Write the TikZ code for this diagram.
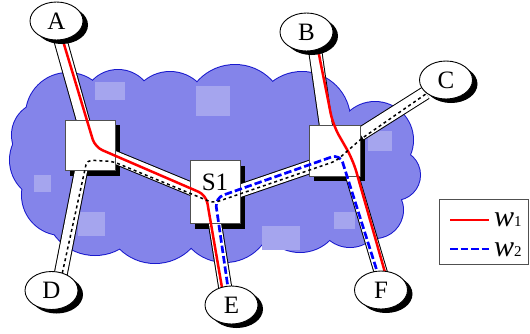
\documentclass[tikz,border=0pt]{standalone}
\usepackage{fontspec}
\setmainfont{Liberation Serif}
\usetikzlibrary{calc,shapes.geometric,shadows}
\definecolor{cloudfill}{RGB}{132,132,234}
\definecolor{cloudline}{RGB}{25,25,205}
\definecolor{patchc}{RGB}{165,165,238}
\definecolor{boxline}{RGB}{80,80,80}
\definecolor{wred}{RGB}{255,0,0}
\definecolor{wblue}{RGB}{0,0,255}
\pgfdeclarelayer{cloudlayer}
\pgfdeclarelayer{shadowlayer}
\pgfdeclarelayer{bandlayer}
\pgfdeclarelayer{routelayer}
\pgfdeclarelayer{toplayer}
\pgfsetlayers{cloudlayer,shadowlayer,bandlayer,main,routelayer,toplayer}
\tikzset{
 swbox/.style={draw=boxline, fill=white, line width=0.9pt, inner sep=0pt, minimum width=50pt, minimum height=50pt},
 host/.style={ellipse, draw=black, fill=white, line width=0.9pt, inner sep=0pt, minimum width=53pt, minimum height=38pt, font=\fontsize{25}{25}\selectfont, drop shadow={shadow xshift=5pt, shadow yshift=-4pt, opacity=1, fill=black}},
 bandout/.style={line width=14pt, draw=black},
 bandin/.style={line width=12pt, draw=white},
 wone/.style={draw=wred, line width=2.5pt},
 wtwo/.style={draw=wblue, line width=2.7pt, dash pattern=on 7.5pt off 3pt},
 basepath/.style={draw=black, line width=1.5pt, dash pattern=on 3pt off 3pt},
}
\begin{document}
\begin{tikzpicture}[x=1pt,y=-1pt]
\useasboundingbox (0,0) rectangle (530,333);

% switches
\node[swbox] (L) at (90,145.5) {};
\node[swbox, minimum height=63pt, font=\fontsize{25}{25}\selectfont, text height=17pt, text depth=20pt] (S1) at (215,191.5) {S1};
\node[swbox, minimum width=51pt, minimum height=51pt] (R) at (334.5,150.5) {};

% hosts
\begin{pgfonlayer}{toplayer}
\node[host] (A) at (56.5,21) {A};
\node[host] (B) at (306.5,32) {B};
\node[host] (C) at (446,80) {C};
\node[host] (D) at (51.5,290.5) {D};
\node[host] (E) at (231.5,305) {E};
\node[host] (F) at (381,290) {F};
\end{pgfonlayer}

% cloud
\begin{pgfonlayer}{cloudlayer}
\foreach \cx/\cy/\cr in {68/115/42,118/105/35,170/112/40,235/115/50,302/120/48,375/140/38,395/175/25,375/210/28,350/215/32,300/210/42,225/215/47,155/213/50,95/205/50,62/195/40,50/160/40,45/135/33}
  \draw[cloudline, line width=2pt] (\cx,\cy) circle[radius=\cr pt];
\foreach \cx/\cy/\cr in {68/115/42,118/105/35,170/112/40,235/115/50,302/120/48,375/140/38,395/175/25,375/210/28,350/215/32,300/210/42,225/215/47,155/213/50,95/205/50,62/195/40,50/160/40,45/135/33}
  \fill[cloudfill] (\cx,\cy) circle[radius=\cr pt];
\fill[cloudfill] (68,115) -- (118,105) -- (170,112) -- (235,115) -- (302,120) -- (375,140) -- (395,175) -- (375,210) -- (350,215) -- (300,210) -- (225,215) -- (155,213) -- (95,205) -- (62,195) -- (50,160) -- (45,135) -- cycle;
\fill[patchc] (95,82) rectangle (125,100);
\fill[patchc] (196,86) rectangle (230,116);
\fill[patchc] (34,175) rectangle (51,192);
\fill[patchc] (78,212) rectangle (105,236);
\fill[patchc] (262,226) rectangle (300,250);
\fill[patchc] (334,212) rectangle (355,229);
\fill[patchc] (368,131) rectangle (392,151);
\end{pgfonlayer}

% box shadows
\begin{pgfonlayer}{shadowlayer}
\fill[black] ($(L.south west)+(5,5)$) rectangle ($(L.north east)+(5,5)$);
\fill[black] ($(S1.south west)+(5,6)$) rectangle ($(S1.north east)+(5,6)$);
\fill[black] ($(R.south west)+(5,5)$) rectangle ($(R.north east)+(5,5)$);
\end{pgfonlayer}

% band end points
\coordinate (Ab) at ($(A.center)+(-1.5,0)$);
\coordinate (LA) at (L.center);
\coordinate (LS) at ($(L.center)+(0,1.5)$);
\coordinate (LD) at ($(L.center)+(-4,0)$);
\coordinate (Db) at ($(D.center)+(6,0)$);
\coordinate (SL) at ($(S1.center)+(1,7.5)$);
\coordinate (SE) at ($(S1.center)+(-4,7.5)$);
\coordinate (Eb) at ($(E.center)+(-3.5,0)$);
\coordinate (RS) at ($(R.center)+(1.5,7.5)$);
\coordinate (RB) at ($(R.center)+(-5,0)$);
\coordinate (Bb) at ($(B.center)+(6,0)$);
\coordinate (RF) at ($(R.center)+(10.5,1.5)$);
\coordinate (Fb) at ($(F.center)+(5,0)$);

\begin{pgfonlayer}{bandlayer}
\foreach \st in {bandout,bandin}{
  \draw[\st] (Ab) -- (LA);
  \draw[\st] (Db) -- (LD);
  \draw[\st] (LS) -- (SL);
  \draw[\st] (SE) -- (Eb);
  \draw[\st] (SL) -- (RS);
  \draw[\st] (Bb) -- (RB);
  \draw[\st] (C) -- (R);
  \draw[\st] (RF) -- (Fb);
}
\end{pgfonlayer}

% routes
\coordinate (r1) at (95,147);
\coordinate (r2) at (206,195);
\coordinate (r3) at (333,125);
\coordinate (r4) at (353,160);
\coordinate (b1) at (215,198);
\coordinate (b2) at (340,154);
\coordinate (d1) at (87,160);
\coordinate (d2) at (113,161.5);
\coordinate (d3) at (213.4,203);
\coordinate (d4) at (336,161);
\coordinate (d5) at (361,139);
\begin{pgfonlayer}{routelayer}
\draw[wone, rounded corners=8pt] ($(A.center)+(0.5,0)$) -- (r1) -- (r2) -- ($(E.center)+(-6.5,0)$);
\draw[wone, rounded corners=12pt] ($(B.center)+(8,0)$) -- (r3) -- (r4) -- ($(F.center)+(9,0)$);
\draw[wtwo, rounded corners=9pt] ($(E.center)+(-1,0)$) -- (b1) -- (b2) -- ($(F.center)+(2,0)$);
\draw[basepath, rounded corners=5pt] ($(D.center)+(7,0)$) -- (d1) -- (d2) -- (d3) -- (d4) -- (d5) -- (C.center);
\end{pgfonlayer}

% legend
\node[draw=boxline, line width=1.3pt, fill=white, minimum width=89pt, minimum height=65pt, inner sep=0pt] (leg) at (484,232) {};
\coordinate (l1a) at (450,220); \coordinate (l1b) at (489,220);
\coordinate (l2a) at (450,249); \coordinate (l2b) at (489,249);
\draw[wone] (l1a) -- (l1b);
\draw[wtwo] (l2a) -- (l2b);
\node[anchor=base west, inner sep=0pt] (t1) at (494,226) {\fontsize{30}{30}\selectfont\itshape w\fontsize{15}{15}\selectfont\upshape 1};
\node[anchor=base west, inner sep=0pt] (t2) at (494,256) {\fontsize{30}{30}\selectfont\itshape w\fontsize{15}{15}\selectfont\upshape 2};
\end{tikzpicture}
\end{document}
